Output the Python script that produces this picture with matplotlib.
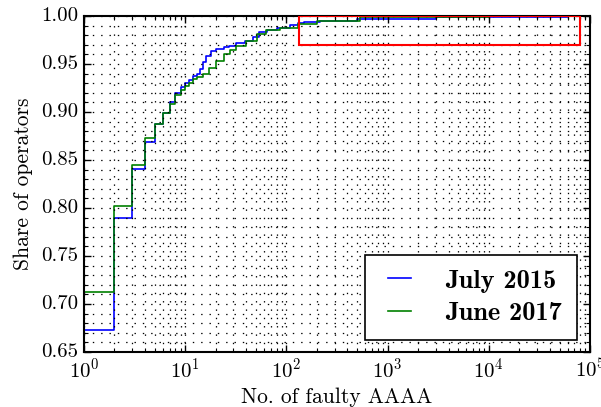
import matplotlib
matplotlib.use("Agg")
import matplotlib.pyplot as plt
from matplotlib.patches import Rectangle
from matplotlib.ticker import LogLocator, MultipleLocator, FormatStrFormatter

plt.style.use("classic")
plt.rcParams["font.family"] = ["cmr10", "DejaVu Serif"]
plt.rcParams["mathtext.fontset"] = "cm"
plt.rcParams["axes.formatter.use_mathtext"] = True

# Cumulative share of operators vs. number of faulty AAAA records
july2015_x = [1, 2, 3, 4, 5, 6, 7, 8, 9, 10, 11, 12, 13, 14, 15, 16, 18, 20, 24,
              27, 32, 39, 47, 53, 64, 80, 108, 130, 150, 215, 500, 3000, 60000]
july2015_y = [0.673, 0.790, 0.841, 0.869, 0.888, 0.899, 0.910, 0.920, 0.926, 0.930,
              0.933, 0.937, 0.940, 0.945, 0.952, 0.958, 0.964, 0.966, 0.968, 0.969,
              0.9715, 0.974, 0.978, 0.983, 0.985, 0.9875, 0.991, 0.993, 0.994,
              0.995, 0.997, 0.999, 1.0]

june2017_x = [1, 2, 3, 4, 5, 6, 7, 8, 9, 10, 11, 12, 13, 15, 17, 20, 24, 28, 32,
              40, 51, 63, 86, 130, 200, 530, 10000]
june2017_y = [0.712, 0.802, 0.845, 0.873, 0.888, 0.899, 0.908, 0.918, 0.923, 0.927,
              0.930, 0.934, 0.936, 0.940, 0.946, 0.953, 0.960, 0.965, 0.969, 0.974,
              0.981, 0.985, 0.988, 0.992, 0.995, 0.9985, 1.0]

x_max = 1e5

# Highlighted region (tail of the distribution)
box_x = [134, 80000]
box_y = [0.97, 1.0]

fig = plt.figure(figsize=(6.01, 4.07), dpi=100, facecolor="white")
ax = fig.add_axes([0.1398, 0.1351, 0.8419, 0.8256])
ax.set_facecolor("white")

ax.plot(july2015_x + [x_max], july2015_y + [july2015_y[-1]], color="b", lw=1.2,
        drawstyle="steps-post", label="July 2015")
ax.plot(june2017_x + [x_max], june2017_y + [june2017_y[-1]], color="g", lw=1.2,
        drawstyle="steps-post", label="June 2017")

ax.add_patch(Rectangle((box_x[0], box_y[0]), box_x[1] - box_x[0], box_y[1] - box_y[0],
                       fill=False, edgecolor="red", lw=1.5, zorder=3))

ax.set_xscale("log")
ax.set_xlim(1, x_max)
ax.set_ylim(0.65, 1.0)
ax.xaxis.set_major_locator(LogLocator(base=10, numticks=10))
ax.xaxis.set_minor_locator(LogLocator(base=10, subs=range(2, 10), numticks=20))
ax.yaxis.set_major_locator(MultipleLocator(0.05))
ax.yaxis.set_minor_locator(MultipleLocator(0.01))
ax.yaxis.set_major_formatter(FormatStrFormatter("%.2f"))

ax.grid(True, which="both", linestyle=(0, (1, 5)), color="black", linewidth=0.9)
ax.tick_params(which="both", direction="in", top=True, right=True, labelsize=15)
ax.tick_params(which="major", length=5, width=1)
ax.tick_params(which="minor", length=3, width=0.8)
for s in ax.spines.values():
    s.set_linewidth(1.5)

ax.set_xlabel("No. of faulty AAAA", fontsize=15.5, labelpad=4)
ax.set_ylabel("Share of operators", fontsize=15.5, labelpad=6)

leg = ax.legend(loc="lower right", prop={"family": "cmb10", "size": 19},
                handlelength=1.5, handletextpad=1.0, borderpad=0.55,
                labelspacing=0.35, fancybox=False, framealpha=1,
                bbox_to_anchor=(0.974, 0.036), borderaxespad=0)
leg.get_frame().set_edgecolor("black")
leg.get_frame().set_linewidth(1.2)

fig.savefig("out.png", dpi=100, facecolor="white")
